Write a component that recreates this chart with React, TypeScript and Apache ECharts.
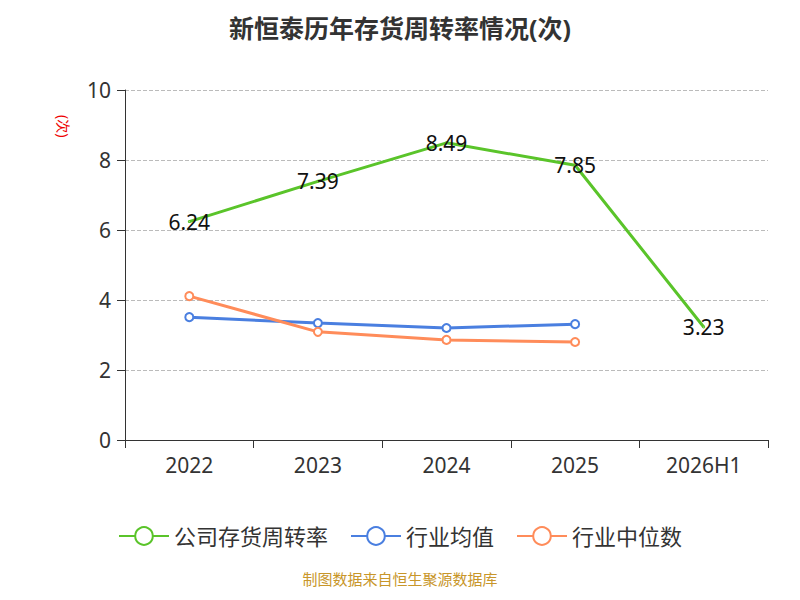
import { useEffect, useRef } from 'react';
import * as echarts from 'echarts';

const categories = ['2022', '2023', '2024', '2025', '2026H1'];
const companyValues = [6.24, 7.39, 8.49, 7.85, 3.23];
const industryMean = [3.51, 3.34, 3.2, 3.31];
const industryMedian = [4.11, 3.09, 2.86, 2.8];

export default function App() {
  const chartRef = useRef<HTMLDivElement>(null);

  useEffect(() => {
    if (!chartRef.current) return;
    const chart = echarts.init(chartRef.current, null, { renderer: 'svg' });
    const font = '"Noto Sans", "Noto Sans CJK SC", sans-serif';

    chart.setOption({
      animation: false,
      textStyle: { fontFamily: font },
      title: {
        text: '新恒泰历年存货周转率情况(次)',
        left: 'center',
        top: 2,
        textStyle: { fontSize: 25, fontWeight: 'bold', color: '#333', fontFamily: font }
      },
      grid: { left: 117, right: 24, top: 82, bottom: 152 },
      legend: {
        bottom: 40,
        itemWidth: 50,
        itemHeight: 22,
        itemGap: 22,
        textStyle: { fontSize: 22, color: '#333' },
        data: ['公司存货周转率', '行业均值', '行业中位数']
      },
      graphic: [
        {
          type: 'text',
          left: 'center',
          bottom: 6,
          style: { text: '制图数据来自恒生聚源数据库', fill: '#c8962a', fontSize: 15, fontFamily: font }
        },
        {
          type: 'text',
          x: 62,
          y: 107,
          rotation: -Math.PI / 2,
          style: { text: '(次)', fill: '#e00', fontSize: 14, fontFamily: font }
        }
      ],
      xAxis: {
        type: 'category',
        data: categories,
        axisLine: { lineStyle: { color: '#333' } },
        axisTick: { show: true, length: 8, lineStyle: { color: '#333' } },
        axisLabel: { fontSize: 21, color: '#333', margin: 14 }
      },
      yAxis: {
        type: 'value',
        min: 0,
        max: 10,
        interval: 2,
        axisLine: { show: true, lineStyle: { color: '#333' } },
        axisTick: { show: true, length: 8, lineStyle: { color: '#333' } },
        axisLabel: { fontSize: 21, color: '#333', margin: 14 },
        splitLine: { lineStyle: { type: 'dashed', color: '#bbb' } }
      },
      series: [
        {
          name: '公司存货周转率',
          type: 'line',
          data: companyValues,
          symbol: 'emptyCircle',
          symbolSize: 1,
          lineStyle: { width: 3, color: '#5ac42a' },
          itemStyle: { color: '#5ac42a' },
          label: { show: true, position: 'inside', fontSize: 21, color: '#111' }
        },
        {
          name: '行业均值',
          type: 'line',
          data: industryMean,
          symbol: 'emptyCircle',
          symbolSize: 8,
          lineStyle: { width: 3, color: '#4a7fe0' },
          itemStyle: { color: '#4a7fe0', borderWidth: 2 }
        },
        {
          name: '行业中位数',
          type: 'line',
          data: industryMedian,
          symbol: 'emptyCircle',
          symbolSize: 8,
          lineStyle: { width: 3, color: '#ff8c5a' },
          itemStyle: { color: '#ff8c5a', borderWidth: 2 }
        }
      ]
    });

    return () => chart.dispose();
  }, []);

  return <div ref={chartRef} style={{ width: 784, height: 584 }} />;
}
